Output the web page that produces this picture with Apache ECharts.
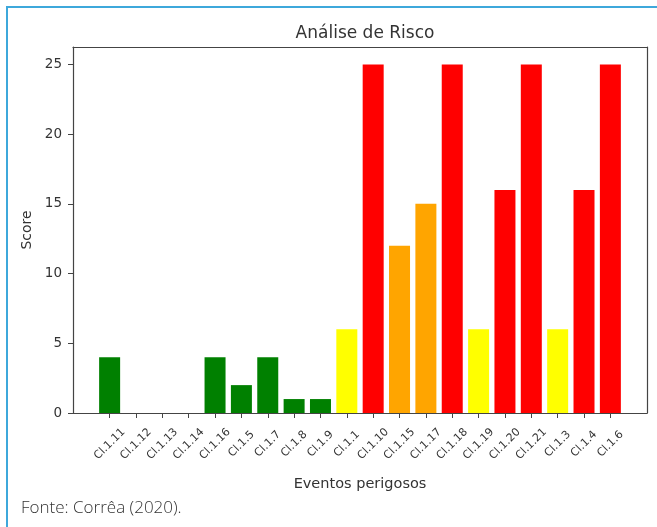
<!DOCTYPE html>
<html>
<head>
<meta charset="utf-8">
<script src="https://cdn.jsdelivr.net/npm/echarts@6/dist/echarts.min.js"></script>
<style>
html,body{margin:0;padding:0;background:#fff;}
#wrap{position:relative;width:657px;height:527px;overflow:hidden;}
#frame{position:absolute;left:6px;top:6px;width:700px;height:600px;border-top:2px solid #3ea8db;border-left:2px solid #3ea8db;box-sizing:border-box;}
#chart{position:absolute;left:0;top:0;width:657px;height:527px;}
#src{position:absolute;left:21px;top:497px;font-family:"Open Sans",sans-serif;font-weight:300;font-size:17px;line-height:20px;color:#333;}
</style>
</head>
<body>
<div id="wrap">
<div id="frame"></div>
<div id="chart"></div>
<div id="src">Fonte: Corrêa (2020).</div>
</div>
<script>
const categories = ["Cl.1.11","Cl.1.12","Cl.1.13","Cl.1.14","Cl.1.16","Cl.1.5","Cl.1.7","Cl.1.8","Cl.1.9","Cl.1.1","Cl.1.10","Cl.1.15","Cl.1.17","Cl.1.18","Cl.1.19","Cl.1.20","Cl.1.21","Cl.1.3","Cl.1.4","Cl.1.6"];
const scores = [4,0,0,0,4,2,4,1,1,6,25,12,15,25,6,16,25,6,16,25];
const barColors = ["green","green","green","green","green","green","green","green","green","yellow","red","orange","orange","red","yellow","red","red","yellow","red","red"];
const yTicks = [0,5,10,15,20,25];

const n = categories.length;
const pad = 0.4 + 0.05 * (n - 1 + 0.8);
const xMin = -pad, xMax = n - 1 + pad;
const yMax = 25 * 1.05;
const idx = categories.map((c, i) => i);
const axisCol = '#444';
const textCol = '#333';
const font = 'DejaVu Sans';

const chart = echarts.init(document.getElementById('chart'), null, {renderer: 'canvas'});
chart.setOption({
  animation: false,
  backgroundColor: 'transparent',
  title: {
    text: 'Análise de Risco',
    left: 360, top: 20, textAlign: 'center',
    textStyle: {fontFamily: font, fontSize: 17, fontWeight: 'normal', color: textCol}
  },
  grid: {left: 73, right: 10, top: 47, bottom: 114},
  xAxis: [{
    type: 'value', min: xMin, max: xMax,
    name: 'Eventos perigosos', nameLocation: 'middle', nameGap: 64,
    nameTextStyle: {fontFamily: font, fontSize: 14.5, color: textCol},
    axisLine: {show: true, onZero: false, lineStyle: {color: axisCol, width: 1.2}},
    axisTick: {show: true, length: 5, customValues: idx, lineStyle: {color: axisCol}},
    axisLabel: {
      customValues: idx, rotate: 45, margin: 31,
      align: 'center', verticalAlign: 'middle',
      fontFamily: font, fontSize: 11, color: textCol,
      formatter: v => categories[Math.round(v)]
    },
    splitLine: {show: false}
  }, {
    type: 'value', min: xMin, max: xMax, position: 'top',
    axisLine: {show: true, onZero: false, lineStyle: {color: axisCol, width: 1.2}},
    axisTick: {show: false}, axisLabel: {show: false}, splitLine: {show: false}
  }],
  yAxis: [{
    type: 'value', min: 0, max: yMax,
    name: 'Score', nameLocation: 'middle', nameGap: 36,
    nameTextStyle: {fontFamily: font, fontSize: 14, color: textCol},
    axisLine: {show: true, onZero: false, lineStyle: {color: axisCol, width: 1.2}},
    axisTick: {show: true, length: 5, customValues: yTicks, lineStyle: {color: axisCol}},
    axisLabel: {customValues: yTicks, margin: 11, fontFamily: font, fontSize: 13.5, color: textCol},
    splitLine: {show: false}
  }, {
    type: 'value', min: 0, max: yMax, position: 'right',
    axisLine: {show: true, onZero: false, lineStyle: {color: axisCol, width: 1.2}},
    axisTick: {show: false}, axisLabel: {show: false}, splitLine: {show: false}
  }],
  series: [{
    type: 'bar',
    xAxisIndex: 0, yAxisIndex: 0,
    barWidth: 21,
    data: scores.map((v, i) => ({value: [i, v], itemStyle: {color: barColors[i]}}))
  }]
});
</script>
</body>
</html>
